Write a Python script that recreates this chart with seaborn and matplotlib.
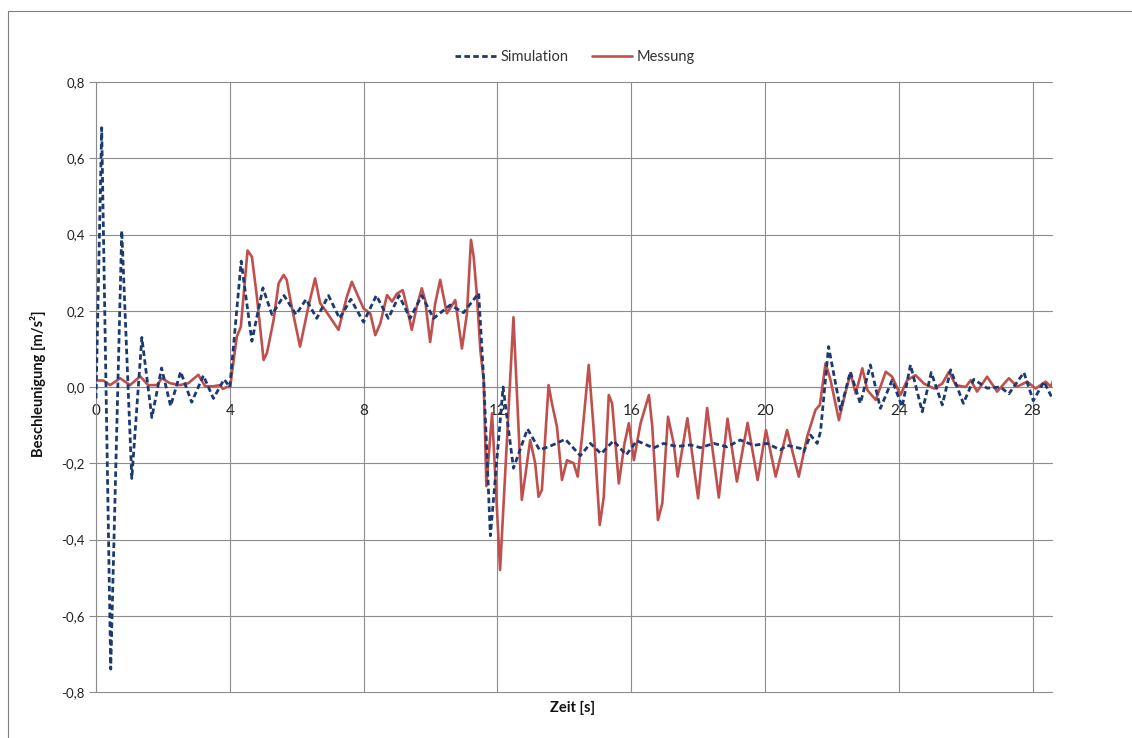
import matplotlib
matplotlib.use("Agg")
import matplotlib.pyplot as plt
import seaborn as sns
import pandas as pd
from matplotlib.lines import Line2D

# ---- data ----
sim_t = [0.0, 0.17, 0.44, 0.77, 1.07, 1.37, 1.67, 1.96, 2.23, 2.53, 2.86, 3.21, 3.51, 3.83, 4.0,
         4.34, 4.66, 4.99, 5.26, 5.62, 5.98, 6.28, 6.60, 6.95, 7.28, 7.62, 8.0, 8.38, 8.74, 9.06,
         9.39, 9.74, 10.09, 10.59, 10.99, 11.44, 11.59, 11.79, 12.17, 12.48, 12.90, 13.26, 13.58,
         14.03, 14.48, 14.78, 15.1, 15.47, 15.85, 16.17, 16.67, 16.97, 17.37, 17.77, 18.07, 18.47,
         18.87, 19.26, 19.66, 20.06, 20.46, 20.66, 21.06, 21.16, 21.36, 21.56, 21.66, 21.9, 22.26,
         22.55, 22.85, 23.15, 23.45, 23.8, 24.1, 24.35, 24.7, 24.97, 25.3, 25.55, 25.93, 26.24,
         26.64, 27.04, 27.29, 27.74, 28.02, 28.34, 28.59]
sim_a = [-0.03, 0.68, -0.74, 0.41, -0.24, 0.13, -0.08, 0.05, -0.05, 0.04, -0.04, 0.03, -0.03, 0.02, 0.0,
         0.33, 0.12, 0.26, 0.19, 0.24, 0.19, 0.23, 0.18, 0.24, 0.18, 0.23, 0.17, 0.24, 0.18, 0.24,
         0.18, 0.24, 0.18, 0.215, 0.195, 0.246, 0.02, -0.39, 0.0, -0.213, -0.11, -0.165, -0.155,
         -0.137, -0.18, -0.148, -0.175, -0.141, -0.178, -0.141, -0.16, -0.148, -0.156, -0.152, -0.159, -0.148,
         -0.157, -0.139, -0.153, -0.148, -0.165, -0.153, -0.161, -0.17, -0.126, -0.148, -0.117, 0.106, -0.06,
         0.04, -0.043, 0.058, -0.056, 0.018, -0.052, 0.058, -0.065, 0.038, -0.047, 0.045, -0.043, 0.02,
         -0.003, 0.0, -0.018, 0.038, -0.036, 0.014, -0.030]

mes_t = [0.0, 0.22, 0.42, 0.72, 1.02, 1.32, 1.56, 1.82, 1.97, 2.21, 2.51, 2.76, 3.06, 3.26, 3.51, 3.71,
         3.79, 3.91, 4.01, 4.21, 4.33, 4.53, 4.66, 4.81, 5.01, 5.11, 5.31, 5.46, 5.61, 5.70, 5.85,
         6.10, 6.35, 6.55, 6.70, 6.85, 7.05, 7.25, 7.50, 7.65, 7.80, 8.0, 8.2, 8.35, 8.50, 8.70,
         8.85, 9.0, 9.17, 9.29, 9.44, 9.59, 9.74, 9.84, 9.99, 10.14, 10.29, 10.49, 10.74, 10.94,
         11.09, 11.21, 11.29, 11.39, 11.49, 11.59, 11.67, 11.84, 12.08, 12.48, 12.73, 12.83, 12.98,
         13.13, 13.23, 13.33, 13.53, 13.63, 13.78, 13.93, 14.08, 14.28, 14.40, 14.53, 14.73, 14.88,
         15.06, 15.18, 15.33, 15.43, 15.63, 15.80, 15.93, 16.08, 16.28, 16.53, 16.63, 16.80, 16.93,
         17.10, 17.27, 17.39, 17.68, 18.0, 18.27, 18.62, 18.88, 19.16, 19.48, 19.78, 20.03, 20.32,
         20.66, 21.01, 21.26, 21.51, 21.64, 21.81, 21.96, 22.21, 22.41, 22.56, 22.71, 22.91, 23.06,
         23.31, 23.61, 23.80, 24.05, 24.25, 24.50, 24.75, 25.05, 25.30, 25.50, 25.70, 26.0, 26.15,
         26.34, 26.64, 26.94, 27.29, 27.54, 27.84, 28.09, 28.39, 28.54, 28.62]
mes_a = [0.017, 0.017, 0.005, 0.023, 0.005, 0.028, 0.005, 0.005, 0.023, 0.01, 0.005, 0.01, 0.032, 0.002, 0.002, 0.005,
         -0.005, 0.0, 0.0, 0.132, 0.158, 0.358, 0.342, 0.237, 0.071, 0.089, 0.176, 0.272, 0.294, 0.281, 0.211,
         0.106, 0.211, 0.285, 0.220, 0.202, 0.176, 0.150, 0.237, 0.276, 0.245, 0.206, 0.193, 0.136, 0.167, 0.241,
         0.224, 0.245, 0.254, 0.211, 0.150, 0.211, 0.259, 0.228, 0.118, 0.219, 0.281, 0.193, 0.228, 0.101,
         0.193, 0.386, 0.342, 0.237, 0.097, 0.018, -0.26, -0.069, -0.48, 0.183, -0.296, -0.235, -0.139,
         -0.200, -0.288, -0.270, 0.005, -0.043, -0.104, -0.244, -0.192, -0.200, -0.235, -0.130, 0.058, -0.113,
         -0.362, -0.288, -0.021, -0.043, -0.253, -0.148, -0.095, -0.192, -0.095, -0.021, -0.104, -0.349, -0.305,
         -0.078, -0.148, -0.235, -0.082, -0.292, -0.055, -0.29, -0.083, -0.248, -0.094, -0.244, -0.113, -0.235,
         -0.113, -0.235, -0.130, -0.060, -0.047, 0.062, 0.018, -0.087, -0.012, 0.036, -0.017, 0.049, -0.008,
         -0.034, 0.040, 0.027, -0.021, 0.018, 0.031, 0.009, -0.004, 0.009, 0.040, 0.005, 0.0, 0.018,
         -0.012, 0.027, -0.012, 0.023, 0.001, 0.014, -0.004, 0.014, 0.001, 0.018]

x_ticks = [0, 4, 8, 12, 16, 20, 24, 28]
x_tick_labels = ["0", "4", "8", "12", "16", "20", "24", "28"]
y_ticks = [-0.8, -0.6, -0.4, -0.2, 0.0, 0.2, 0.4, 0.6, 0.8]
y_tick_labels = ["-0,8", "-0,6", "-0,4", "-0,2", "0,0", "0,2", "0,4", "0,6", "0,8"]
series_names = ["Simulation", "Messung"]
x_label = "Zeit [s]"
y_label = "Beschleunigung [m/s²]"

# ---- style ----
sns.set_theme(style="white")
plt.rcParams['font.family'] = ['Lato', 'DejaVu Sans']

W, H = 1132, 738
fig = plt.figure(figsize=(W / 100, H / 100), dpi=100)
fig.patch.set_facecolor("white")
ax = fig.add_axes([96 / W, 1 - 692 / H, (1052 - 96) / W, (692 - 82) / H])

blue = "#1c3a72"
red = "#c0504d"
grid_c = "#8c8c8c"
dash = (0, (2.0, 1.2))

df_sim = pd.DataFrame({"t": sim_t, "a": sim_a})
df_mes = pd.DataFrame({"t": mes_t, "a": mes_a})

sns.lineplot(data=df_mes, x="t", y="a", ax=ax, color=red, linewidth=1.9,
             estimator=None, sort=False, zorder=3)
sns.lineplot(data=df_sim, x="t", y="a", ax=ax, color=blue, linewidth=2.0,
             estimator=None, sort=False, zorder=4)
ax.lines[-1].set_linestyle(dash)
for ln in ax.lines:
    ln.set_solid_joinstyle("round")
    ln.set_dash_joinstyle("round")

ax.set_xlim(0, 28.58)
ax.set_ylim(-0.8, 0.8)
ax.set_xticks(x_ticks)
ax.set_xticklabels(x_tick_labels, fontsize=9.5, color="#222222")
ax.set_yticks(y_ticks)
ax.set_yticklabels(y_tick_labels, fontsize=9.5, color="#222222")
ax.set_xlabel("")
ax.set_ylabel("")

ax.grid(True, color=grid_c, linewidth=0.8)
for gl in ax.get_ygridlines() + ax.get_xgridlines():
    gl.set_clip_on(False)
ax.set_axisbelow(True)

for s in ["top", "right"]:
    ax.spines[s].set_visible(False)
ax.spines["left"].set_color(grid_c)
ax.spines["left"].set_linewidth(0.8)
ax.spines["bottom"].set_position(("data", 0))
ax.spines["bottom"].set_color(grid_c)
ax.spines["bottom"].set_linewidth(0.8)

ax.tick_params(axis="x", length=0, pad=12)
ax.tick_params(axis="y", length=5, width=0.8, color=grid_c, pad=3, left=True)

fig.text(573 / W, 1 - 708 / H, x_label, ha="center", va="center",
         fontsize=10.5, fontweight="bold", color="#111111")
fig.text(38 / W, 1 - 384 / H, y_label, ha="center", va="center", rotation=90,
         fontsize=10.5, fontweight="bold", color="#111111")

handles = [Line2D([], [], color=blue, linewidth=2.0, linestyle=dash),
           Line2D([], [], color=red, linewidth=1.9)]
fig.legend(handles, series_names, loc="center", bbox_to_anchor=(575 / W, 1 - 57 / H),
           ncol=2, frameon=False, fontsize=10.5, handlelength=2.8, handletextpad=0.3,
           columnspacing=1.6, labelcolor="#333333")

# outer chart-area border (top and left visible in the reference crop)
fig.add_artist(Line2D([8 / W, 1.0], [1 - 10.5 / H, 1 - 10.5 / H], color="#7f7f7f",
                      linewidth=0.8, transform=fig.transFigure))
fig.add_artist(Line2D([8 / W, 8 / W], [0.0, 1 - 10.5 / H], color="#7f7f7f",
                      linewidth=0.8, transform=fig.transFigure))

fig.savefig("out.png", dpi=100, facecolor="white")
